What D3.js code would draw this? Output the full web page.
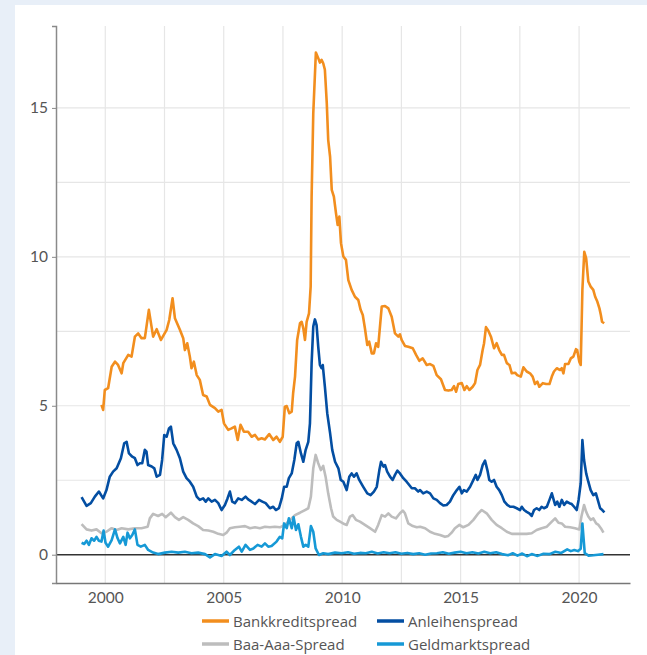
<!DOCTYPE html>
<html>
<head>
<meta charset="utf-8">
<script src="https://cdn.jsdelivr.net/npm/d3@7"></script>
<style>
  html, body { margin: 0; padding: 0; background: #e8eff8; }
  svg { display: block; }
  text { font-family: Lato, "Open Sans", sans-serif; fill: #555; }
</style>
</head>
<body>
<div id="chart"></div>
<script>
// Bankkreditspread [Jahr, Wert]
const bankkredit = [[1999.84,5.03],[1999.91,4.86],[1999.98,5.53],[2000.12,5.59],[2000.27,6.31],[2000.41,6.48],[2000.54,6.37],[2000.69,6.09],[2000.76,6.43],[2000.97,6.71],[2001.11,6.65],[2001.25,7.32],[2001.39,7.43],[2001.53,7.27],[2001.67,7.27],[2001.84,8.22],[2002.02,7.32],[2002.17,7.57],[2002.35,7.21],[2002.59,7.55],[2002.70,7.88],[2002.84,8.61],[2002.94,7.94],[2003.15,7.55],[2003.29,7.27],[2003.36,6.87],[2003.46,7.10],[2003.57,6.65],[2003.64,6.26],[2003.74,6.48],[2003.86,6.03],[2003.99,5.87],[2004.13,5.36],[2004.28,5.31],[2004.42,5.03],[2004.63,4.92],[2004.77,4.80],[2004.91,4.86],[2005.01,4.41],[2005.19,4.19],[2005.33,4.24],[2005.47,4.30],[2005.59,3.85],[2005.71,4.36],[2005.85,4.13],[2006.03,4.13],[2006.18,3.96],[2006.32,4.02],[2006.46,3.87],[2006.60,3.91],[2006.74,3.87],[2006.92,4.05],[2007.09,3.85],[2007.23,3.96],[2007.37,3.79],[2007.49,3.96],[2007.58,4.97],[2007.66,4.99],[2007.77,4.75],[2007.87,4.80],[2007.93,5.42],[2008.01,5.98],[2008.10,7.21],[2008.22,7.77],[2008.29,7.82],[2008.36,7.60],[2008.43,7.21],[2008.50,7.82],[2008.60,8.10],[2008.67,9.00],[2008.71,12.02],[2008.78,14.82],[2008.89,16.86],[2008.99,16.67],[2009.06,16.52],[2009.13,16.61],[2009.20,16.50],[2009.27,16.28],[2009.35,15.16],[2009.41,13.93],[2009.49,13.36],[2009.56,12.25],[2009.65,12.02],[2009.74,11.46],[2009.81,11.07],[2009.88,11.35],[2009.95,10.46],[2010.05,10.01],[2010.16,9.90],[2010.26,9.22],[2010.40,8.89],[2010.54,8.66],[2010.68,8.55],[2010.78,8.22],[2010.87,8.05],[2010.96,7.60],[2011.06,7.04],[2011.14,7.15],[2011.25,6.76],[2011.34,6.76],[2011.43,7.10],[2011.52,6.98],[2011.67,8.33],[2011.81,8.35],[2011.95,8.27],[2012.09,7.99],[2012.23,7.43],[2012.37,7.32],[2012.44,7.40],[2012.51,7.21],[2012.65,7.01],[2012.79,6.98],[2012.98,6.93],[2013.12,6.71],[2013.26,6.51],[2013.40,6.59],[2013.57,6.37],[2013.71,6.40],[2013.85,6.34],[2013.99,6.03],[2014.17,5.89],[2014.34,5.53],[2014.48,5.51],[2014.62,5.53],[2014.72,5.66],[2014.81,5.47],[2014.90,5.73],[2015.05,5.76],[2015.16,5.53],[2015.26,5.66],[2015.37,5.53],[2015.51,5.64],[2015.61,5.76],[2015.71,6.20],[2015.82,6.37],[2015.93,6.87],[2015.99,7.10],[2016.07,7.64],[2016.17,7.52],[2016.28,7.32],[2016.41,6.93],[2016.52,7.10],[2016.63,6.87],[2016.74,6.71],[2016.83,6.71],[2016.95,6.43],[2017.06,6.37],[2017.16,6.09],[2017.30,6.11],[2017.39,6.03],[2017.54,5.98],[2017.65,6.29],[2017.79,6.15],[2017.93,6.09],[2018.04,5.98],[2018.14,5.73],[2018.24,5.81],[2018.32,5.64],[2018.47,5.76],[2018.61,5.73],[2018.75,5.73],[2018.85,5.98],[2018.94,6.15],[2019.06,6.26],[2019.20,6.20],[2019.27,6.26],[2019.34,6.09],[2019.41,6.40],[2019.55,6.40],[2019.65,6.59],[2019.76,6.65],[2019.87,6.90],[2019.92,6.87],[2020.01,6.48],[2020.07,6.37],[2020.14,8.89],[2020.22,10.17],[2020.30,9.95],[2020.39,9.17],[2020.49,9.00],[2020.60,8.89],[2020.68,8.66],[2020.77,8.50],[2020.86,8.27],[2020.92,8.05],[2020.97,7.82],[2021.06,7.77]];

// Anleihenspread
const anleihen = [[1999.00,1.93],[1999.21,1.64],[1999.39,1.73],[1999.56,1.95],[1999.73,2.12],[1999.91,1.89],[2000.05,2.17],[2000.19,2.62],[2000.33,2.79],[2000.48,2.90],[2000.66,3.24],[2000.80,3.74],[2000.90,3.79],[2001.00,3.40],[2001.14,3.29],[2001.25,3.24],[2001.36,3.01],[2001.46,3.07],[2001.56,3.07],[2001.67,3.52],[2001.74,3.46],[2001.81,3.01],[2001.96,2.96],[2002.07,2.90],[2002.17,2.62],[2002.31,2.68],[2002.40,3.18],[2002.49,4.02],[2002.59,3.96],[2002.69,4.24],[2002.77,4.30],[2002.87,3.74],[2003.01,3.52],[2003.15,3.24],[2003.29,2.79],[2003.43,2.57],[2003.57,2.45],[2003.71,2.28],[2003.86,1.95],[2003.99,1.84],[2004.13,1.89],[2004.24,1.78],[2004.35,1.89],[2004.49,1.78],[2004.63,1.84],[2004.77,1.73],[2004.91,1.50],[2005.05,1.67],[2005.16,1.89],[2005.26,2.12],[2005.36,1.78],[2005.47,1.73],[2005.61,1.89],[2005.76,1.84],[2005.92,1.95],[2006.03,1.86],[2006.18,1.78],[2006.32,1.70],[2006.49,1.84],[2006.63,1.78],[2006.77,1.73],[2006.95,1.56],[2007.09,1.61],[2007.20,1.50],[2007.33,1.56],[2007.45,1.89],[2007.55,2.28],[2007.66,2.28],[2007.75,2.57],[2007.87,2.73],[2007.98,3.18],[2008.08,3.74],[2008.15,3.79],[2008.26,3.40],[2008.36,3.12],[2008.46,3.52],[2008.57,3.79],[2008.64,4.41],[2008.66,4.97],[2008.71,6.43],[2008.78,7.66],[2008.85,7.90],[2008.92,7.71],[2008.99,6.98],[2009.06,6.37],[2009.13,6.26],[2009.18,6.37],[2009.27,5.64],[2009.37,4.75],[2009.49,4.08],[2009.58,3.52],[2009.70,3.12],[2009.84,2.90],[2009.94,2.51],[2010.05,2.45],[2010.19,2.17],[2010.30,2.62],[2010.40,2.73],[2010.50,2.62],[2010.61,2.73],[2010.72,2.51],[2010.89,2.28],[2011.06,2.06],[2011.20,2.00],[2011.34,2.12],[2011.46,2.28],[2011.57,2.84],[2011.64,3.12],[2011.74,2.96],[2011.81,3.01],[2011.90,2.79],[2012.02,2.62],[2012.13,2.51],[2012.23,2.68],[2012.33,2.82],[2012.44,2.73],[2012.58,2.57],[2012.72,2.45],[2012.83,2.34],[2012.94,2.23],[2013.07,2.23],[2013.21,2.12],[2013.29,2.17],[2013.42,2.06],[2013.57,2.12],[2013.71,2.06],[2013.85,1.89],[2013.99,1.84],[2014.13,1.73],[2014.27,1.65],[2014.41,1.67],[2014.55,1.78],[2014.69,2.00],[2014.84,2.17],[2014.95,2.28],[2015.05,2.06],[2015.14,2.17],[2015.26,2.12],[2015.40,2.28],[2015.54,2.51],[2015.64,2.68],[2015.71,2.51],[2015.82,2.68],[2015.93,3.01],[2016.03,3.16],[2016.13,2.84],[2016.21,2.51],[2016.31,2.45],[2016.41,2.51],[2016.52,2.28],[2016.63,2.17],[2016.74,2.00],[2016.85,1.78],[2016.97,1.67],[2017.09,1.61],[2017.23,1.61],[2017.37,1.56],[2017.51,1.50],[2017.58,1.61],[2017.68,1.50],[2017.79,1.44],[2017.90,1.39],[2018.00,1.30],[2018.10,1.50],[2018.21,1.56],[2018.32,1.50],[2018.42,1.61],[2018.52,1.56],[2018.64,1.61],[2018.75,1.84],[2018.85,2.06],[2018.91,1.89],[2018.99,1.67],[2019.08,1.78],[2019.17,1.61],[2019.27,1.84],[2019.37,1.67],[2019.48,1.78],[2019.59,1.73],[2019.69,1.70],[2019.79,1.61],[2019.90,1.50],[2019.98,1.84],[2020.07,2.40],[2020.14,3.85],[2020.21,3.18],[2020.30,2.73],[2020.39,2.45],[2020.49,2.17],[2020.60,2.00],[2020.71,2.06],[2020.79,1.84],[2020.89,1.56],[2020.98,1.50],[2021.07,1.42]];

// Baa-Aaa-Spread
const baaAaa = [[1999.00,1.03],[1999.21,0.85],[1999.42,0.81],[1999.63,0.85],[1999.84,0.72],[2000.05,0.77],[2000.27,0.89],[2000.48,0.83],[2000.69,0.89],[2000.97,0.85],[2001.25,0.89],[2001.53,0.89],[2001.79,0.94],[2001.88,1.22],[2002.02,1.37],[2002.23,1.30],[2002.40,1.37],[2002.55,1.26],[2002.77,1.41],[2002.94,1.26],[2003.11,1.17],[2003.29,1.26],[2003.50,1.17],[2003.71,1.05],[2003.92,0.96],[2004.13,0.83],[2004.35,0.81],[2004.56,0.77],[2004.77,0.70],[2004.98,0.66],[2005.12,0.74],[2005.26,0.89],[2005.47,0.92],[2005.68,0.94],[2005.90,0.96],[2006.11,0.89],[2006.32,0.92],[2006.53,0.89],[2006.74,0.94],[2006.95,0.92],[2007.16,0.94],[2007.37,0.92],[2007.58,1.00],[2007.80,1.17],[2008.01,1.33],[2008.22,1.41],[2008.43,1.50],[2008.57,1.56],[2008.68,1.95],[2008.78,2.90],[2008.88,3.35],[2008.99,3.07],[2009.10,2.84],[2009.20,2.98],[2009.30,2.62],[2009.41,2.06],[2009.53,1.56],[2009.62,1.28],[2009.77,1.17],[2009.91,1.11],[2010.09,1.03],[2010.19,1.00],[2010.33,1.28],[2010.44,1.33],[2010.58,1.17],[2010.75,1.11],[2010.96,1.00],[2011.17,0.89],[2011.39,0.77],[2011.52,1.00],[2011.67,1.33],[2011.81,1.28],[2011.95,1.39],[2012.09,1.28],[2012.27,1.22],[2012.44,1.39],[2012.56,1.48],[2012.65,1.39],[2012.79,1.05],[2012.98,0.96],[2013.15,0.92],[2013.29,0.94],[2013.50,0.89],[2013.71,0.77],[2013.92,0.70],[2014.13,0.66],[2014.34,0.60],[2014.48,0.63],[2014.62,0.74],[2014.76,0.89],[2014.95,1.00],[2015.11,0.92],[2015.33,1.00],[2015.54,1.17],[2015.75,1.39],[2015.89,1.50],[2016.10,1.39],[2016.31,1.17],[2016.52,1.00],[2016.74,0.89],[2016.95,0.77],[2017.16,0.70],[2017.37,0.70],[2017.58,0.70],[2017.79,0.70],[2018.00,0.72],[2018.21,0.83],[2018.42,0.89],[2018.64,0.94],[2018.85,1.11],[2018.99,1.22],[2019.13,1.07],[2019.27,1.05],[2019.41,0.94],[2019.62,0.92],[2019.83,0.89],[2020.01,0.85],[2020.10,1.28],[2020.21,1.67],[2020.30,1.44],[2020.39,1.28],[2020.49,1.17],[2020.60,1.22],[2020.72,1.05],[2020.82,1.00],[2020.92,0.89],[2021.03,0.74]];

// Geldmarktspread
const geldmarkt = [[1999.00,0.40],[1999.11,0.36],[1999.21,0.47],[1999.31,0.33],[1999.42,0.55],[1999.53,0.47],[1999.63,0.60],[1999.73,0.47],[1999.84,0.44],[1999.93,0.81],[2000.01,0.40],[2000.12,0.27],[2000.27,0.49],[2000.41,0.85],[2000.52,0.55],[2000.62,0.38],[2000.76,0.60],[2000.86,0.33],[2000.94,0.74],[2001.04,0.55],[2001.14,0.66],[2001.25,0.85],[2001.36,0.33],[2001.50,0.27],[2001.67,0.33],[2001.81,0.16],[2002.02,0.07],[2002.23,0.02],[2002.52,0.07],[2002.80,0.10],[2003.08,0.07],[2003.36,0.10],[2003.64,0.05],[2003.92,0.07],[2004.21,0.02],[2004.42,-0.09],[2004.63,0.02],[2004.91,-0.04],[2005.12,0.10],[2005.26,-0.01],[2005.47,0.16],[2005.64,0.27],[2005.76,0.10],[2005.92,0.33],[2006.11,0.16],[2006.25,0.21],[2006.43,0.33],[2006.60,0.27],[2006.74,0.38],[2006.88,0.27],[2007.02,0.29],[2007.23,0.44],[2007.37,0.60],[2007.47,0.55],[2007.55,1.05],[2007.66,0.89],[2007.75,1.22],[2007.87,0.89],[2007.95,1.26],[2008.05,0.83],[2008.15,1.02],[2008.26,0.60],[2008.36,0.27],[2008.46,0.33],[2008.57,0.27],[2008.68,0.96],[2008.78,0.77],[2008.88,0.21],[2009.02,-0.01],[2009.20,0.05],[2009.41,0.02],[2009.70,0.07],[2009.98,0.05],[2010.25,0.08],[2010.50,0.03],[2010.75,0.06],[2011.00,0.05],[2011.25,0.10],[2011.50,0.04],[2011.75,0.08],[2012.00,0.05],[2012.25,0.08],[2012.50,0.03],[2012.75,0.06],[2013.00,0.02],[2013.25,0.05],[2013.50,0.00],[2013.75,0.04],[2014.00,0.05],[2014.25,0.08],[2014.50,0.03],[2014.75,0.07],[2015.00,0.10],[2015.25,0.05],[2015.50,0.08],[2015.75,0.04],[2016.00,0.10],[2016.25,0.05],[2016.50,0.08],[2016.75,0.02],[2017.00,-0.02],[2017.20,0.05],[2017.40,-0.03],[2017.60,0.04],[2017.80,-0.05],[2018.00,0.02],[2018.25,-0.04],[2018.50,0.03],[2018.75,0.02],[2019.00,0.10],[2019.25,0.06],[2019.50,0.18],[2019.65,0.12],[2019.80,0.16],[2019.95,0.12],[2020.07,0.20],[2020.14,1.05],[2020.24,0.05],[2020.40,-0.03],[2020.60,-0.02],[2020.80,0.00],[2021.03,0.02]];

const seriesNames = ["Bankkreditspread", "Anleihenspread", "Baa-Aaa-Spread", "Geldmarktspread"];
const seriesColors = ["#f28e1e", "#034ea2", "#bdbdbd", "#1699d6"];
const yTickValues = [0, 5, 10, 15];
const xTickValues = [2000, 2005, 2010, 2015, 2020];

const W = 647, H = 655;

const svg = d3.select("#chart").append("svg")
    .attr("width", W)
    .attr("height", H);

// weisse Fläche
svg.append("rect")
    .attr("x", 15).attr("y", 5)
    .attr("width", W - 15).attr("height", H - 5)
    .attr("fill", "#fff");

const x = d3.scaleLinear()
    .domain([1997.92, 2022.15])
    .range([56, 630]);

const y = d3.scaleLinear()
    .domain([-0.95, 17.75])
    .range([583, 26]);

// Gitter
const grid = svg.append("g");
grid.selectAll(".vgrid")
    .data(d3.range(2000, 2021, 2.5))
    .enter().append("line")
        .attr("x1", d => x(d)).attr("x2", d => x(d))
        .attr("y1", y.range()[1]).attr("y2", y.range()[0])
        .attr("stroke", "#e6e6e6")
        .attr("stroke-width", 1.2);

grid.selectAll(".hgrid")
    .data(d3.range(2.5, 15.1, 2.5))
    .enter().append("line")
        .attr("x1", x.range()[0]).attr("x2", x.range()[1])
        .attr("y1", d => y(d)).attr("y2", d => y(d))
        .attr("stroke", "#e6e6e6")
        .attr("stroke-width", 1.2);

// Nulllinie
svg.append("line")
    .attr("x1", x.range()[0]).attr("x2", x.range()[1])
    .attr("y1", y(0)).attr("y2", y(0))
    .attr("stroke", "#333")
    .attr("stroke-width", 1.5);

// Y-Achse
const yAxis = svg.append("g")
    .attr("transform", `translate(${x.range()[0]},0)`)
    .call(d3.axisLeft(y).tickValues(yTickValues).tickSize(4).tickPadding(4).tickFormat(d3.format("d")));
yAxis.select(".domain").attr("stroke", "#8a8a8a").attr("stroke-width", 1.5);
yAxis.selectAll(".tick line").attr("stroke", "#8a8a8a");
yAxis.selectAll(".tick text")
    .style("font-family", "Lato, 'Open Sans', sans-serif")
    .style("font-size", "15.5px")
    .style("fill", "#555");

// X-Achse
const xAxis = svg.append("g")
    .attr("transform", `translate(0,${y.range()[0]})`)
    .call(d3.axisBottom(x).tickValues(xTickValues).tickSize(0).tickPadding(9).tickFormat(d3.format("d")));
xAxis.select(".domain").attr("stroke", "#777").attr("stroke-width", 1.5);
xAxis.selectAll(".tick text")
    .style("font-family", "Lato, 'Open Sans', sans-serif")
    .style("font-size", "15.5px")
    .style("fill", "#555");

// Linien
const line = d3.line()
    .x(d => x(d[0]))
    .y(d => y(d[1]));

const allSeries = [bankkredit, anleihen, baaAaa, geldmarkt];
const drawOrder = [2, 3, 1, 0];

drawOrder.forEach(i => {
    svg.append("path")
        .datum(allSeries[i])
        .attr("fill", "none")
        .attr("stroke", seriesColors[i])
        .attr("stroke-width", 2.6)
        .attr("stroke-linejoin", "round")
        .attr("d", line);
});

// Legende
const legendPos = [[202, 621], [377, 621], [202, 644], [377, 644]];
const legend = svg.append("g");
seriesNames.forEach((name, i) => {
    const [lx, ly] = legendPos[i];
    legend.append("line")
        .attr("x1", lx).attr("x2", lx + 27)
        .attr("y1", ly).attr("y2", ly)
        .attr("stroke", seriesColors[i])
        .attr("stroke-width", 3.5);
    legend.append("text")
        .attr("x", lx + 31)
        .attr("y", ly + 5.5)
        .style("font-family", "'Open Sans', Lato, sans-serif")
        .style("font-size", "15px")
        .text(name);
});
</script>
</body>
</html>
